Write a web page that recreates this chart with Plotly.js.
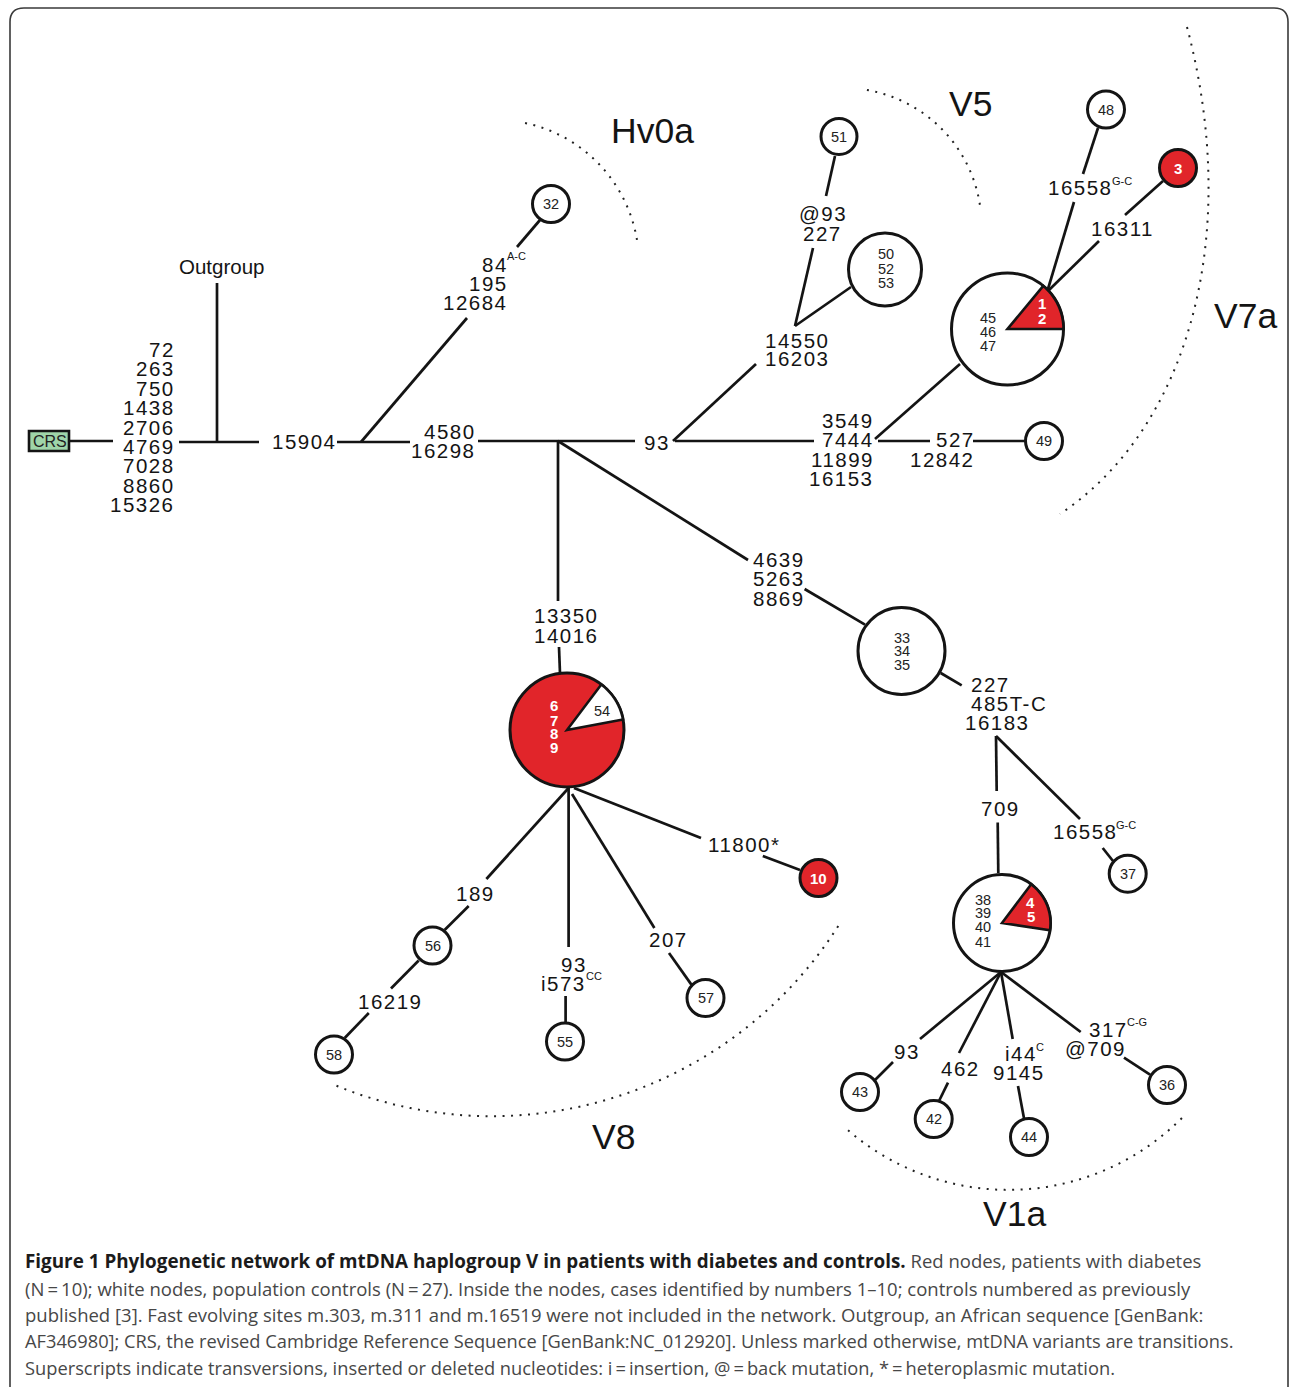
<!DOCTYPE html>
<html><head><meta charset="utf-8">
<script src="https://cdn.plot.ly/plotly-3.0.1.min.js"></script>
<style>
html,body{margin:0;padding:0;background:#fff;}
#chart{width:1290px;height:1387px;}
</style>
</head><body><div id="chart"></div>
<script>
// ---------- network nodes (layout position of each haplotype node) ----------
const nodeId = ['32','51','50-53','45-47','48','3','49','6-9','56','58','55','57','10','33-35','37','38-41','43','42','44','36'];
const nodeX  = [551, 839, 885, 1007.5, 1106, 1178, 1044, 567, 432.5, 334, 565, 705.5, 818.5, 901.5, 1127.7, 1002, 860, 933.7, 1029, 1167];
const nodeY  = [204, 136.5, 269.5, 329, 109.5, 168, 441, 730, 945.5, 1054.5, 1041.5, 998, 878, 651, 873.7, 923, 1092, 1119, 1137, 1085];
const nodeR  = [18.5, 18, 36.5, 56, 18.5, 18.5, 18.5, 57, 18.5, 18.5, 18.5, 18.5, 18.5, 43.5, 18.5, 48.5, 18.5, 18.5, 18.5, 18.5];
const nodeBase = ['control','control','control','control','control','case','control','case','control','control','control','control','case','control','control','control','control','control','control','control'];

// pie slices inside mixed nodes (degrees, counter-clockwise from east)
const sliceNode = ['45-47', '6-9', '38-41'];
const sliceFrom = [0, 10.7, -8.5];
const sliceTo   = [50.3, 53, 53];
const sliceKind = ['case', 'control', 'case'];

// identifiers written inside nodes
const idText = ['32','51','50','52','53','45','46','47','1','2','48','3','49','6','7','8','9','54','56','58','55','57','10','33','34','35','37','38','39','40','41','4','5','43','42','44','36'];
const idX = [551,839,885.7,885.7,885.7,988,988,988,1042,1042,1106,1178,1044,553.8,553.8,553.8,553.8,602,432.5,334,565,705.5,818.5,901.7,901.7,901.7,1127.7,982.7,982.7,982.7,982.7,1030.7,1030.7,860,933.7,1029,1167];
const idY = [204,136.5,254,269.4,283.3,318,332,345.5,303.6,318,109.5,168,441,705,720,733.6,747.4,710.6,945.5,1054.5,1041.5,998,878,638,651.4,665,873.7,899.6,913,927,941.6,902.8,916,1092,1119,1137,1085];
const idCase = [0,0,0,0,0,0,0,0,1,1,0,1,0,1,1,1,1,0,0,0,0,0,1,0,0,0,0,0,0,0,0,1,1,0,0,0,0];

// ---------- branches ----------
const edgeX0 = [70,179,217,337,361,517,478,675,558,558,673,795,795,826,875,878,973,1048,1083,1048,1125,559,568.6,468.7,418.7,368.8,568.6,565.6,572,669,574,762.8,804.6,940.7,996,996,997.7,1102.7,1001,893,1001,948,1001,1018,1001,1124];
const edgeY0 = [441,442,283,442,442,247,441,441,441,441,441,326,326,196,439,441,441,289,174,291,215,647,788,906,960.5,1013,788,996,794,953,788,856,589,673,736,736,822.4,848,972,1062,972,1082.7,972,1086,972,1057.7];
const edgeX1 = [113,259,217,410,467,540,635,814,558,748,756,813,851,835,960,930,1026,1074,1098,1099,1163,560,486.4,444.6,391,344.7,568.6,565.6,654.4,691.4,701,800,865,961.7,996.7,1080,998.3,1113,920,875,959,939,1012.7,1024,1080.7,1150];
const edgeY1 = [441,442,442,442,318,220,441,441,601,560,364,248,287,156,364,441,441,202,128,241,181,673.5,879,930,988.5,1038,947,1022,928,984.6,838,870,624.6,685.4,791,819,872.9,861,1039,1080,1053,1101,1039,1118.4,1032,1074.6];

// ---------- mutation labels ----------
const mutText = ['72','263','750','1438','2706','4769','7028','8860','15326','15904','4580','16298','84','195','12684','93','14550','16203','@93','227','3549','7444','11899','16153','527','12842','16558','16311','13350','14016','4639','5263','8869','189','16219','93','i573','207','11800*','227','485T-C','16183','709','16558','93','462','i44','9145','317','@709'];
const mutX = [174.5,174.5,174.5,174.5,174.5,174.5,174.5,174.5,174.5,304,475.5,475.5,507.5,507.5,507.5,657,797,797,823,822,873.5,873.5,873.5,873.5,974.5,974.5,1080.5,1122,566,566,779,779,779,475,390,574,563.5,668.5,708,990,1009,997.5,1000,1085,907,960,1021,1018.5,1108,1095.5];
const mutY = [349,368.5,388,407,427,446,465,485,504,441,431.5,450.7,264,283,302,442,340,358,213,233,420,439.5,459,478,439.5,459,187,228,615,635,559,578.6,598,893,1001,964,983.5,939.5,844.6,684,703,722,808,831,1051.4,1068,1053,1072.4,1029,1048];
const mutAnchor = ['right','right','right','right','right','right','right','right','right','center','right','right','right','right','right','center','center','center','center','center','right','right','right','right','right','right','center','center','center','center','center','center','center','center','center','center','center','center','left','center','center','center','center','center','center','center','center','center','center','center'];

const supText = ['A-C','G-C','CC','G-C','C','C-G'];
const supX = [507,1112,586,1116,1036,1127];
const supY = [256,181,976,824.6,1047,1022];

// ---------- haplogroup clusters (dotted arcs) ----------
const grpText = ['Hv0a','V5','V7a','V8','V1a'];
const grpX = [652,970,1245,613,1014];
const grpY = [131,104,316,1137,1214];
const arcCx = [495.5, 843.7, null, 491.6, 1008.4];
const arcCy = [263.3, 225.8, null, 705.2, 944.5];
const arcR  = [143.4, 137.8, null, 411, 245.4];
const arcA0 = [-78.1, -80.3, null, 32.5, 45];
const arcA1 = [-9.35, -8.3, null, 112.4, 132.3];
// V7a boundary drawn as a curve through its end points
const v7aCurve = [[1187,27],[1243,240],[1186,430],[1060,514]];

const caption = [
  '<span style="color:#1b1b1b;font-size:18.85px"><b>Figure 1 Phylogenetic network of mtDNA haplogroup V in patients with diabetes and controls.</b></span> Red nodes, patients with diabetes',
  '(N\u2009=\u200910); white nodes, population controls (N\u2009=\u200927). Inside the nodes, cases identified by numbers 1\u201310; controls numbered as previously',
  'published [3]. Fast evolving sites m.303, m.311 and m.16519 were not included in the network. Outgroup, an African sequence [GenBank:',
  'AF346980]; CRS, the revised Cambridge Reference Sequence [GenBank:NC_012920]. Unless marked otherwise, mtDNA variants are transitions.',
  'Superscripts indicate transversions, inserted or deleted nucleotides: i\u2009=\u2009insertion, @\u2009=\u2009back mutation, *\u2009=\u2009heteroplasmic mutation.'
];
const captionY = [1261, 1288, 1314, 1340, 1367];
const captionSize = [18.5, 18.5, 18.5, 18.25, 18.3];

// ---------- styles ----------
const RED = '#e1252a', INK = '#141414';
const FONT = 'Liberation Sans, Arial, Helvetica, sans-serif';

// wider digit spacing for mutation labels
(function(){
  const uniq = [...new Set(mutText)];
  const sel = uniq.map(t => 'text.annotation-text[data-unformatted="' + t + '"]').join(',');
  const st = document.createElement('style');
  st.textContent = sel + '{letter-spacing:1.5px;}';
  document.head.appendChild(st);
})();

const shapes = [];
const annotations = [];

// frame
shapes.push({type:'path', xref:'x', yref:'y', path:'M10,1400 L10,22 Q10,8 24,8 L1274,8 Q1288,8 1288,22 L1288,1400',
  line:{color:'#3a3a3a', width:1.6}, fillcolor:'rgba(0,0,0,0)'});

// branches
for (let i = 0; i < edgeX0.length; i++) {
  shapes.push({type:'line', xref:'x', yref:'y', x0:edgeX0[i], y0:edgeY0[i], x1:edgeX1[i], y1:edgeY1[i],
    line:{color:INK, width:2.7}});
}

// CRS box
shapes.push({type:'rect', xref:'x', yref:'y', x0:29, x1:69, y0:431, y1:451, fillcolor:'#9fd5a9', line:{color:INK, width:2.6}});
annotations.push({x:49.5, y:441.5, text:'CRS', showarrow:false, xanchor:'center', yanchor:'middle',
  font:{family:FONT, size:16, color:'#222'}, borderpad:0, borderwidth:0});

// nodes
function arcPts(cx, cy, r, a0, a1, n) {
  const p = [];
  for (let k = 0; k <= n; k++) {
    const a = (a0 + (a1 - a0) * k / n) * Math.PI / 180;
    p.push([cx + r * Math.cos(a), cy - r * Math.sin(a)]);
  }
  return p;
}
for (let i = 0; i < nodeId.length; i++) {
  const r = nodeR[i];
  shapes.push({type:'circle', xref:'x', yref:'y', x0:nodeX[i]-r, x1:nodeX[i]+r, y0:nodeY[i]-r, y1:nodeY[i]+r,
    fillcolor: nodeBase[i] === 'case' ? RED : '#ffffff', line:{color:INK, width:3}});
  const s = sliceNode.indexOf(nodeId[i]);
  if (s >= 0) {
    const pts = arcPts(nodeX[i], nodeY[i], r, sliceFrom[s], sliceTo[s], 40);
    const path = 'M' + nodeX[i] + ',' + nodeY[i] + ' ' + pts.map(p => 'L' + p[0].toFixed(2) + ',' + p[1].toFixed(2)).join(' ') + ' Z';
    shapes.push({type:'path', xref:'x', yref:'y', path:path,
      fillcolor: sliceKind[s] === 'case' ? RED : '#ffffff', line:{color:INK, width:2.6}});
  }
}

// dotted cluster boundaries
for (let g = 0; g < grpText.length; g++) {
  let path;
  if (arcCx[g] === null) {
    const c = v7aCurve;
    path = 'M' + c[0][0] + ',' + c[0][1] + ' C' + c[1][0] + ',' + c[1][1] + ' ' + c[2][0] + ',' + c[2][1] + ' ' + c[3][0] + ',' + c[3][1];
  } else {
    const pts = arcPts(arcCx[g], arcCy[g], arcR[g], -arcA0[g], -arcA1[g], 80);
    path = 'M' + pts.map(p => p[0].toFixed(2) + ',' + p[1].toFixed(2)).join(' L');
  }
  shapes.push({type:'path', xref:'x', yref:'y', path:path, line:{color:'#222', width:2, dash:'2px,6.5px'}, fillcolor:'rgba(0,0,0,0)'});
  annotations.push({x:grpX[g], y:grpY[g], text:grpText[g], showarrow:false, xanchor:'center', yanchor:'middle',
    font:{family:FONT, size:35.5, color:INK}, borderpad:0, borderwidth:0});
}

// node identifiers
for (let i = 0; i < idText.length; i++) {
  annotations.push({x:idX[i], y:idY[i], text: idCase[i] ? '<b>' + idText[i] + '</b>' : idText[i], showarrow:false,
    xanchor:'center', yanchor:'middle', borderpad:0, borderwidth:0,
    font:{family:FONT, size: idCase[i] ? 15 : 14.5, color: idCase[i] ? '#ffffff' : '#222'}});
}

// mutation labels
for (let i = 0; i < mutText.length; i++) {
  annotations.push({x:mutX[i], y:mutY[i], text:mutText[i], showarrow:false, xanchor:mutAnchor[i], yanchor:'middle',
    borderpad:0, borderwidth:0, font:{family:FONT, size:20.5, color:INK}});
}
for (let i = 0; i < supText.length; i++) {
  annotations.push({x:supX[i], y:supY[i], text:supText[i], showarrow:false, xanchor:'left', yanchor:'middle',
    borderpad:0, borderwidth:0, font:{family:FONT, size:11, color:INK}});
}
annotations.push({x:221, y:266, text:'Outgroup', showarrow:false, xanchor:'center', yanchor:'middle',
  borderpad:0, borderwidth:0, font:{family:FONT, size:20.5, color:INK}});

// caption
for (let i = 0; i < caption.length; i++) {
  annotations.push({x:25, y:captionY[i], text:caption[i], showarrow:false, xanchor:'left', yanchor:'middle', align:'left',
    borderpad:0, borderwidth:0, font:{family:'Open Sans, Noto Sans, sans-serif', size:captionSize[i], color:'#474747'}});
}

const data = [{type:'scatter', mode:'markers', x:nodeX, y:nodeY, marker:{size:1, opacity:0}, hoverinfo:'skip', showlegend:false}];

const layout = {
  width:1290, height:1387, margin:{l:0, r:0, t:0, b:0, pad:0},
  paper_bgcolor:'#ffffff', plot_bgcolor:'#ffffff', showlegend:false,
  xaxis:{range:[0,1290], visible:false, fixedrange:true},
  yaxis:{range:[1387,0], visible:false, fixedrange:true},
  shapes:shapes, annotations:annotations
};
Plotly.newPlot('chart', data, layout, {staticPlot:true, displayModeBar:false});
</script></body></html>
